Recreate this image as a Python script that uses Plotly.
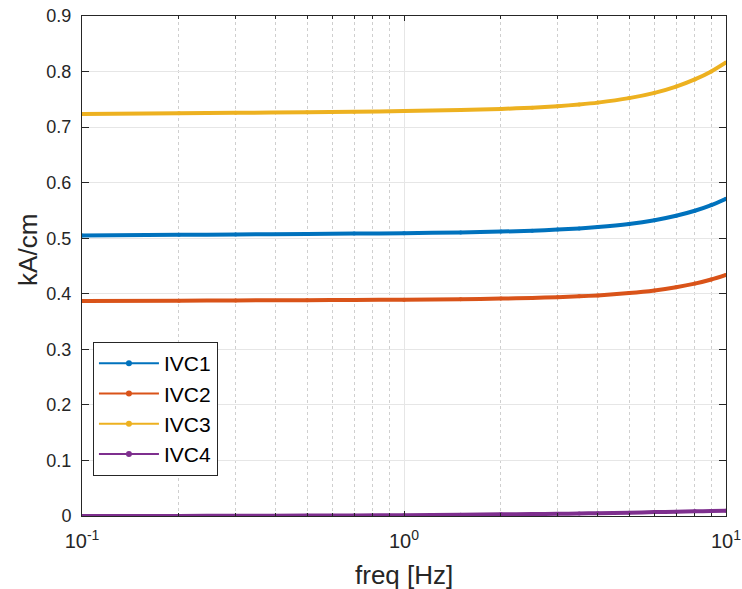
import plotly.graph_objects as go

freq = [0.1, 0.2, 0.3, 0.5, 0.7, 1.0, 1.5, 2.0, 2.5, 3.0, 3.5, 4.0, 5.0, 6.0, 7.0, 8.0, 9.0, 10.0]
ivc1 = [0.5050, 0.5061, 0.5067, 0.5076, 0.5083, 0.5091, 0.5105, 0.5119, 0.5136, 0.5155, 0.5176, 0.5201, 0.5257, 0.5325, 0.5404, 0.5494, 0.5596, 0.5710]
ivc2 = [0.3870, 0.3876, 0.3880, 0.3885, 0.3889, 0.3894, 0.3903, 0.3913, 0.3925, 0.3938, 0.3954, 0.3971, 0.4012, 0.4060, 0.4118, 0.4183, 0.4257, 0.4340]
ivc3 = [0.7235, 0.7249, 0.7257, 0.7269, 0.7277, 0.7288, 0.7307, 0.7327, 0.7350, 0.7377, 0.7407, 0.7441, 0.7522, 0.7617, 0.7730, 0.7859, 0.8003, 0.8165]
ivc4 = [0.0000, 0.0002, 0.0004, 0.0007, 0.0010, 0.0015, 0.0022, 0.0030, 0.0035, 0.0040, 0.0045, 0.0050, 0.0060, 0.0070, 0.0078, 0.0085, 0.0090, 0.0095]
names = ["IVC1", "IVC2", "IVC3", "IVC4"]
colors = ["#0072BD", "#D95319", "#EDB120", "#7E2F8E"]
xticks = [0.1, 1, 10]
xticktext = ["10<sup>-1</sup>", "10<sup>0</sup>", "10<sup>1</sup>"]
minor_vals = [0.2, 0.3, 0.4, 0.5, 0.6, 0.7, 0.8, 0.9, 2, 3, 4, 5, 6, 7, 8, 9]
yticks = [0, 0.1, 0.2, 0.3, 0.4, 0.5, 0.6, 0.7, 0.8, 0.9]
x_title = "freq [Hz]"
y_title = "kA/cm"

FONT = "Liberation Sans, Arial, sans-serif"
INK = "#262626"

fig = go.Figure()
for name, vals, c in zip(names, [ivc1, ivc2, ivc3, ivc4], colors):
    fig.add_trace(go.Scatter(x=freq, y=vals, name=name, mode="lines+markers",
                             line=dict(color=c, width=4, shape="spline", smoothing=0.6),
                             marker=dict(color=c, size=4), showlegend=False))
# legend-only entries (thin line with dot marker, as in the reference legend)
for name, c in zip(names, colors):
    fig.add_trace(go.Scatter(x=[None], y=[None], name=name, mode="lines+markers",
                             line=dict(color=c, width=2), marker=dict(color=c, size=6)))

axis_common = dict(showline=True, linecolor=INK, linewidth=1, mirror="ticks",
                   ticks="inside", tickcolor=INK, automargin=False,
                   gridcolor="#e6e6e6", gridwidth=1, zeroline=False)

fig.update_xaxes(type="log", range=[-1, 1], tickvals=xticks, ticktext=xticktext, ticklen=5,
                 ticklabelstandoff=7, tickfont=dict(family=FONT, size=20, color=INK),
                 minor=dict(tickvals=minor_vals, showgrid=True, griddash="dot", gridcolor="#cfcfcf",
                            ticks="inside", ticklen=3, tickcolor=INK),
                 **axis_common)
fig.update_yaxes(range=[0, 0.9], tickvals=yticks, ticklen=7, ticklabelstandoff=6,
                 tickfont=dict(family=FONT, size=18, color=INK),
                 ticktext=[("0" if v == 0 else f"{v:.1f}") for v in yticks],
                 **axis_common)

fig.add_annotation(text=x_title, xref="paper", yref="paper", x=0.5, y=-0.118,
                   xanchor="center", yanchor="middle", showarrow=False,
                   font=dict(family=FONT, size=26, color=INK))
fig.add_annotation(text=y_title, xref="paper", yref="paper", x=-0.084, y=0.532,
                   xanchor="center", yanchor="middle", showarrow=False, textangle=-90,
                   font=dict(family=FONT, size=26, color=INK))

fig.update_layout(width=742, height=589, plot_bgcolor="white", paper_bgcolor="white",
                  margin=dict(l=82, r=16, t=16, b=73),
                  legend=dict(x=0.017, y=0.08, xanchor="left", yanchor="bottom",
                              bordercolor=INK, borderwidth=1, bgcolor="white",
                              font=dict(family=FONT, size=21, color="#000000"),
                              itemwidth=60, tracegroupgap=0))

fig.write_html("out.html")
